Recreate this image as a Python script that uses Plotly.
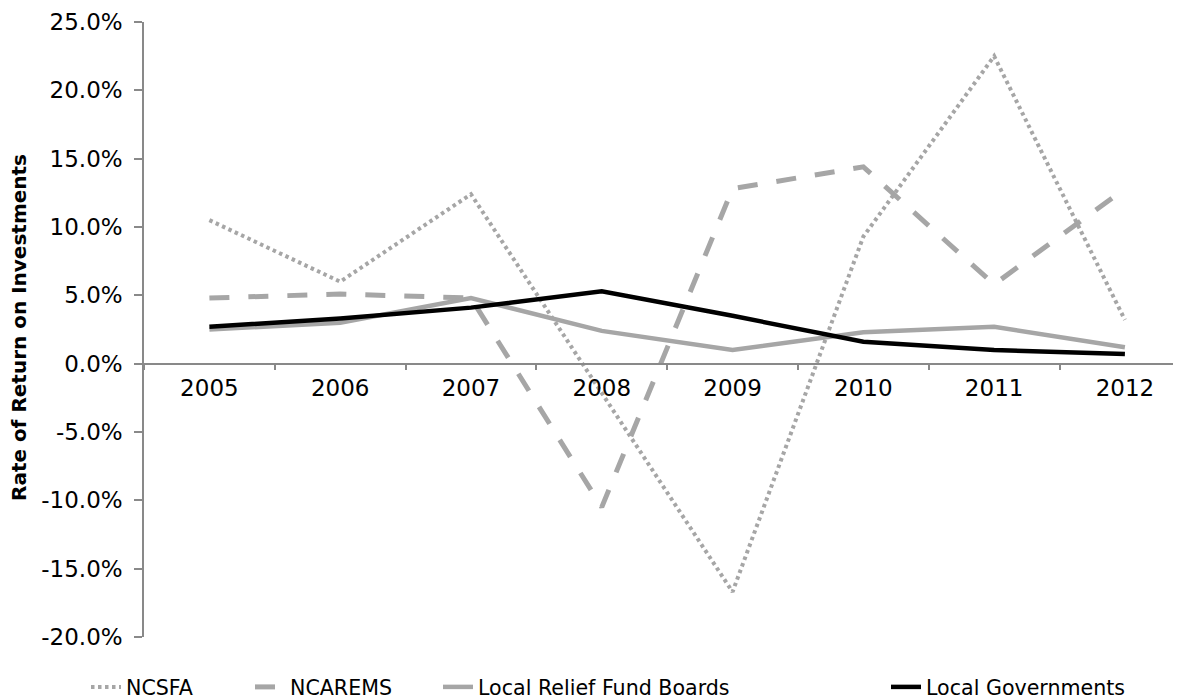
import plotly.graph_objects as go

years = ["2005", "2006", "2007", "2008", "2009", "2010", "2011", "2012"]
ncsfa = [10.5, 6.0, 12.4, -2.2, -16.7, 9.3, 22.5, 3.2]
ncarems = [4.8, 5.1, 4.8, -10.5, 12.8, 14.4, 5.8, 12.8]
relief_boards = [2.5, 3.0, 4.8, 2.4, 1.0, 2.3, 2.7, 1.2]
local_govts = [2.7, 3.3, 4.1, 5.3, 3.5, 1.6, 1.0, 0.7]

y_ticks = [25, 20, 15, 10, 5, 0, -5, -10, -15, -20]
y_tick_text = ["25.0%", "20.0%", "15.0%", "10.0%", "5.0%", "0.0%", "-5.0%", "-10.0%", "-15.0%", "-20.0%"]

GRAY = "#A6A6A6"
AXIS = "#898989"
FONT = "DejaVu Sans"

fig = go.Figure()
fig.add_trace(go.Scatter(x=years, y=ncsfa, name="NCSFA", mode="lines",
                         line=dict(color=GRAY, width=4, dash="3.5px,3.5px"), legend="legend"))
fig.add_trace(go.Scatter(x=years, y=ncarems, name="NCAREMS", mode="lines",
                         line=dict(color=GRAY, width=5, dash="20px,19px"), legend="legend2"))
fig.add_trace(go.Scatter(x=years, y=relief_boards, name="Local Relief Fund Boards", mode="lines",
                         line=dict(color=GRAY, width=4.5), legend="legend3"))
fig.add_trace(go.Scatter(x=years, y=local_govts, name="Local Governments", mode="lines",
                         line=dict(color="#000000", width=4.5), legend="legend4"))

legend_common = dict(orientation="h", xanchor="left", yanchor="middle",
                     font=dict(family=FONT, size=20.6, color="#000000"),
                     bgcolor="rgba(0,0,0,0)", itemwidth=30)

# the page places the figure 8px in from its top-left corner (default body margin)
L = 136.0
TOP = 14.0
BOTTOM = 629.0
H = BOTTOM - TOP
FIG_W = 1181
FIG_H = 700
W = FIG_W - L


def px_x(p):
    return (p - L) / W


def px_y(p):
    return (BOTTOM - p) / H


fig.update_layout(
    width=FIG_W, height=FIG_H,
    margin=dict(l=L, r=0, t=TOP, b=FIG_H - BOTTOM, pad=0, autoexpand=False),
    paper_bgcolor="white", plot_bgcolor="white",
    font=dict(family=FONT, size=23, color="#000000"),
    showlegend=True,
    legend=dict(x=px_x(78), y=px_y(679), **legend_common),
    legend2=dict(x=px_x(242), y=px_y(679), **legend_common),
    legend3=dict(x=px_x(430), y=px_y(679), **legend_common),
    legend4=dict(x=px_x(878), y=px_y(679), **legend_common),
    xaxis=dict(
        type="category",
        range=[-0.5, 7.49],
        anchor="free", position=20.0 / 45.0,
        showline=True, linecolor=AXIS, linewidth=1.5,
        ticks="outside", ticklen=6, tickcolor=AXIS, tickwidth=1.5,
        tickson="boundaries",
        showgrid=False, zeroline=False,
        tickfont=dict(family=FONT, size=23, color="#000000"),
        ticklabelstandoff=4,
    ),
    yaxis=dict(
        range=[-20, 25],
        tickvals=y_ticks, ticktext=y_tick_text,
        showline=True, linecolor=AXIS, linewidth=1.5,
        ticks="outside", ticklen=8, tickcolor=AXIS, tickwidth=1.5,
        showgrid=False, zeroline=False,
        tickfont=dict(family=FONT, size=23, color="#000000"),
        ticklabelstandoff=7,
        ticklabeloverflow="allow",
    ),
    annotations=[dict(
        text="<b>Rate of Return on Investments</b>",
        xref="paper", yref="paper", x=px_x(11), y=px_y(320),
        textangle=-90, showarrow=False, xanchor="center", yanchor="middle",
        font=dict(family=FONT, size=20, color="#000000"),
    )],
)

fig.write_html("out.html")
